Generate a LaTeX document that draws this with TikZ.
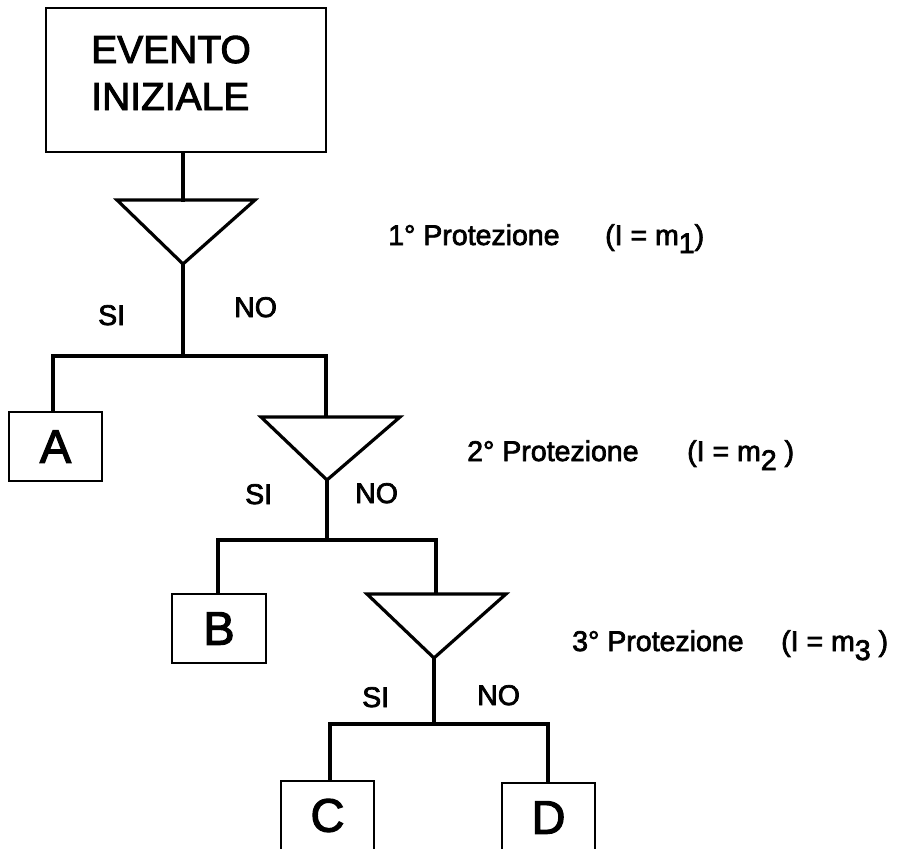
\documentclass[tikz,border=0pt]{standalone}
\usepackage{fontspec}
\setmainfont[FakeBold=2.5]{Liberation Sans}
\begin{document}
\begin{tikzpicture}[x=1pt,y=-1pt,
  conn/.style={line width=3.2pt, line cap=rect},
  tri/.style={line width=3.2pt, line join=miter},
  box/.style={draw, line width=1.8pt, inner sep=0pt},
  leafbox/.style={box, minimum width=93pt, minimum height=69pt, font=\fontsize{47}{50}\selectfont},
  title/.style={anchor=base west, inner sep=0pt, font=\fontsize{39}{44}\selectfont},
  branch/.style={anchor=base west, inner sep=0pt, font=\fontsize{28.5}{32}\selectfont},
  prot/.style={anchor=base west, inner sep=0pt, font=\fontsize{28.5}{32}\selectfont}
]
\useasboundingbox (0,0) rectangle (898,849);
\clip (0,0) rectangle (898,849);

% initial event
\node[box, minimum width=280pt, minimum height=144pt] (init) at (186,80) {};
\node[title] (ev1) at (91,63) {EVENTO};
\node[title] (ev2) at (91,110) {INIZIALE};

% outcome boxes
\node[leafbox] (A) at (55.5,446.5) {\raisebox{-5.5pt}{A}};
\node[leafbox, minimum width=94pt] (B) at (219,628.5) {B};
\node[leafbox] (C) at (327.5,815.5) {C};
\node[leafbox] (D) at (548.5,817.5) {D};

% protection gates (downward triangles)
\coordinate (t1top) at (183,200); \coordinate (t1tip) at (183,264);
\coordinate (t2top) at (326,417); \coordinate (t2tip) at (327,480);
\coordinate (t3top) at (436,594); \coordinate (t3tip) at (434,658);
\draw[tri] (117,200) -- (255,200) -- (t1tip) -- cycle;
\draw[tri] (261,417) -- (400,417) -- (t2tip) -- cycle;
\draw[tri] (367,594) -- (506,594) -- (t3tip) -- cycle;

% branching bars
\coordinate (b1l) at (53,356);  \coordinate (b1r) at (326,356);
\coordinate (b2l) at (218,540); \coordinate (b2r) at (436,540);
\coordinate (b3l) at (330,724); \coordinate (b3r) at (548,724);

% connectors
\draw[conn] (t1top |- init.south) -- (t1top);
\draw[conn] (t1tip) -- (t1tip |- b1l);
\draw[conn, line cap=butt] (b1l |- A.north) -- (b1l) -- (b1r) -- (t2top);
\draw[conn] (t2tip) -- (t2tip |- b2l);
\draw[conn, line cap=butt] (b2l |- B.north) -- (b2l) -- (b2r) -- (t3top);
\draw[conn] (t3tip) -- (t3tip |- b3l);
\draw[conn, line cap=butt] (b3l |- C.north) -- (b3l) -- (b3r) -- (b3r |- D.north);

% branch labels
\node[branch] (si1) at (98,325) {SI};
\node[branch] (no1) at (234,317) {NO};
\node[branch] (si2) at (245,504) {SI};
\node[branch] (no2) at (355,503) {NO};
\node[branch] (si3) at (362,707) {SI};
\node[branch] (no3) at (477,705) {NO};

% protection levels
\node[prot] (p1) at (388,245) {1° Protezione};
\node[prot] (m1) at (605,245) {(I = m\raisebox{-8pt}{1})};
\node[prot] (p2) at (467,461) {2° Protezione};
\node[prot] (m2) at (687,461) {(I = m\raisebox{-9pt}{2} )};
\node[prot] (p3) at (572,651) {3° Protezione};
\node[prot] (m3) at (781,651) {(I = m\raisebox{-9pt}{3} )};
\end{tikzpicture}
\end{document}
